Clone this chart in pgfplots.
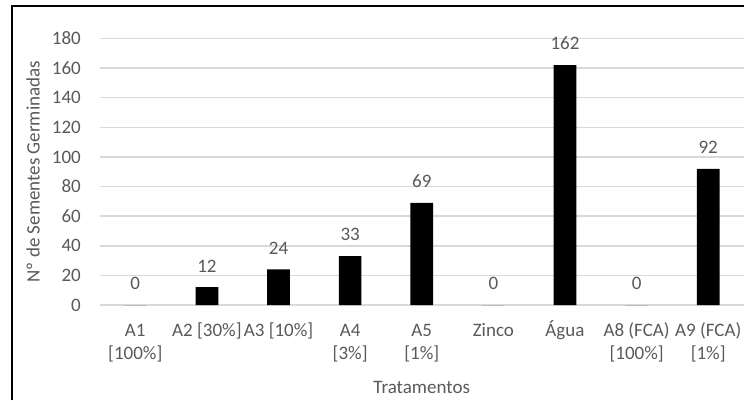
\documentclass[border=0pt]{standalone}
\usepackage{fontspec}
\setmainfont{Carlito}
\usepackage{pgfplots}
\pgfplotsset{compat=1.18}
\definecolor{txtgray}{RGB}{89,89,89}
\definecolor{gridgray}{RGB}{217,217,217}
\begin{document}
\begin{tikzpicture}[x=1bp,y=1bp,font=\fontsize{19bp}{23bp}\selectfont]
\path[use as bounding box] (0,0) rectangle (744,400);
% chart frame
\draw[line width=2bp] (12,0) -- (12,393.5) -- (744,393.5);
\begin{axis}[
  at={(99.5bp,95bp)}, anchor=south west,
  scale only axis, width=644.5bp, height=266.5bp,
  xmin=-0.5, xmax=8.5, ymin=0, ymax=180,
  ytick={0,20,...,180},
  xtick=data,
  xticklabels={{\strut A1\\{[}100\%{]}},{\strut A2 {[}30\%{]}},{\strut A3 {[}10\%{]}},{\strut A4\\{[}3\%{]}},{\strut A5\\{[}1\%{]}},{\strut Zinco},{\strut Água},{\strut A8 (FCA)\\{[}100\%{]}},{\strut A9 (FCA)\\{[}1\%{]}}},
  ymajorgrids,
  grid style={gridgray, line width=1.5bp},
  axis line style={draw=none},
  major tick length=0pt,
  /pgf/number format/assume math mode=true,
  tick label style={text=txtgray},
  xticklabel style={align=center, anchor=north, inner sep=0pt, yshift=-15bp},
  yticklabel style={anchor=east, inner sep=0pt, xshift=-18.5bp},
  ybar, bar width=22.7bp,
  nodes near coords,
  every node near coord/.append style={text=txtgray, anchor=south, inner sep=0pt, yshift=15bp},
  xlabel={Tratamentos},
  xlabel style={text=txtgray, at={(axis description cs:0.5,-0.3077)}, anchor=center},
  ylabel={Nº de Sementes Germinadas},
  ylabel style={text=txtgray, at={(axis description cs:-0.1032,0.5)}, anchor=center, rotate=0},
]
\addplot[fill=black, draw=none] coordinates {
  (0,0) (1,12) (2,24) (3,33) (4,69) (5,0) (6,162) (7,0) (8,92)
};
\end{axis}
\end{tikzpicture}
\end{document}
